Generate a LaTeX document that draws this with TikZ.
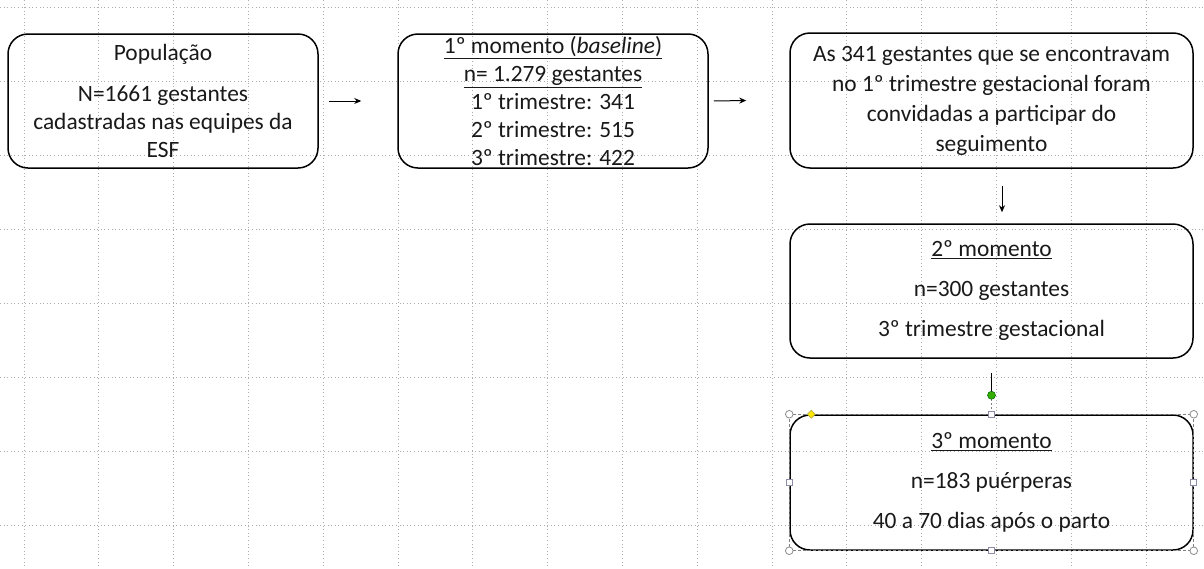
\documentclass[tikz,border=0pt]{standalone}
\usepackage{fontspec}
\setmainfont{Carlito}
\usetikzlibrary{arrows.meta,calc}
\begin{document}
\begin{tikzpicture}[x=1pt,y=-1pt,
  box/.style={draw=black, rounded corners=20pt, line width=1.5pt, align=center,
    inner sep=0pt, font=\fontsize{23.4}{28}\selectfont, text=black!90},
  arr/.style={line width=1pt, -{Stealth[length=7pt,width=6pt]}},
  gridline/.style={black!32, line width=0.9pt, dash pattern=on 1pt off 2.6pt},
  handle/.style={draw=black!45, fill=white, line width=0.8pt},
  sqhandle/.style={draw=blue!25!black!45, fill=white, line width=0.8pt}]
\useasboundingbox (0,0) rectangle (1204,568);
% grid
\foreach \k in {0,...,15} {\draw[gridline] ({24+74.8*\k},0) -- ({24+74.8*\k},568);}
\foreach \k in {0,...,7} {\draw[gridline] (0,{7+74*\k}) -- (1204,{7+74*\k});}
% boxes
\node[box, minimum width=310pt, minimum height=134pt] (b1) at (163,101)
  {População\\[13pt]N=1661 gestantes\\cadastradas nas equipes da\\ESF};
\node[box, minimum width=310pt, minimum height=134pt] (b2) at (553,101)
  {\underline{1º momento (\textit{baseline})}\\\underline{n= 1.279 gestantes}\\1º trimestre: 341\\2º trimestre: 515\\3º trimestre: 422};
\node[box, minimum width=403pt, minimum height=135pt] (b3) at (991.5,100.5)
  {As 341 gestantes que se encontravam\\[2pt]no 1º trimestre gestacional foram\\[2pt]convidadas a participar do\\[2pt]seguimento};
\node[box, minimum width=403pt, minimum height=134pt] (b4) at (991.5,291)
  {\underline{2º momento}\\[12pt]n=300 gestantes\\[12pt]3º trimestre gestacional};
\node[box, minimum width=403pt, minimum height=135pt] (b5) at (991.5,482.5)
  {\underline{3º momento}\\[12pt]n=183 puérperas\\[12pt]40 a 70 dias após o parto};
% connectors
\draw[arr] ([xshift=10pt]b1.east) -- ([xshift=-36pt]b2.west);
\draw[arr] ([xshift=5pt]b2.east) -- ([xshift=-43pt]b3.west);
\draw[arr] ([xshift=10.5pt,yshift=-17pt]b3.south) -- ([xshift=10.5pt,yshift=11pt]b4.north);
\coordinate (rot) at ([yshift=19pt]b5.north);
\draw[line width=1pt] ([yshift=-14pt]b4.south) -- (rot);
% selection handles of the last box
\draw[black!50, line width=0.6pt, dash pattern=on 3pt off 2pt] (b5.north west) rectangle (b5.south east);
\draw[black!50, line width=0.6pt, dash pattern=on 2pt off 2pt] (rot) -- (b5.north);
\foreach \c in {north west, north east, south west, south east} {\draw[handle] (b5.\c) circle (3.8pt);}
\foreach \c in {north, south, east, west} {\draw[sqhandle] ($(b5.\c)+(-3,-3)$) rectangle ++(6,6);}
\fill[green!60!black!80!yellow, draw=green!40!black, line width=0.5pt] (rot) circle (4pt);
\filldraw[fill=yellow!90!orange, draw=yellow!60!black, line width=0.5pt] ([xshift=22pt]b5.north west) ++(0,-4) -- ++(4,4) -- ++(-4,4) -- ++(-4,-4) -- cycle;
\end{tikzpicture}
\end{document}
